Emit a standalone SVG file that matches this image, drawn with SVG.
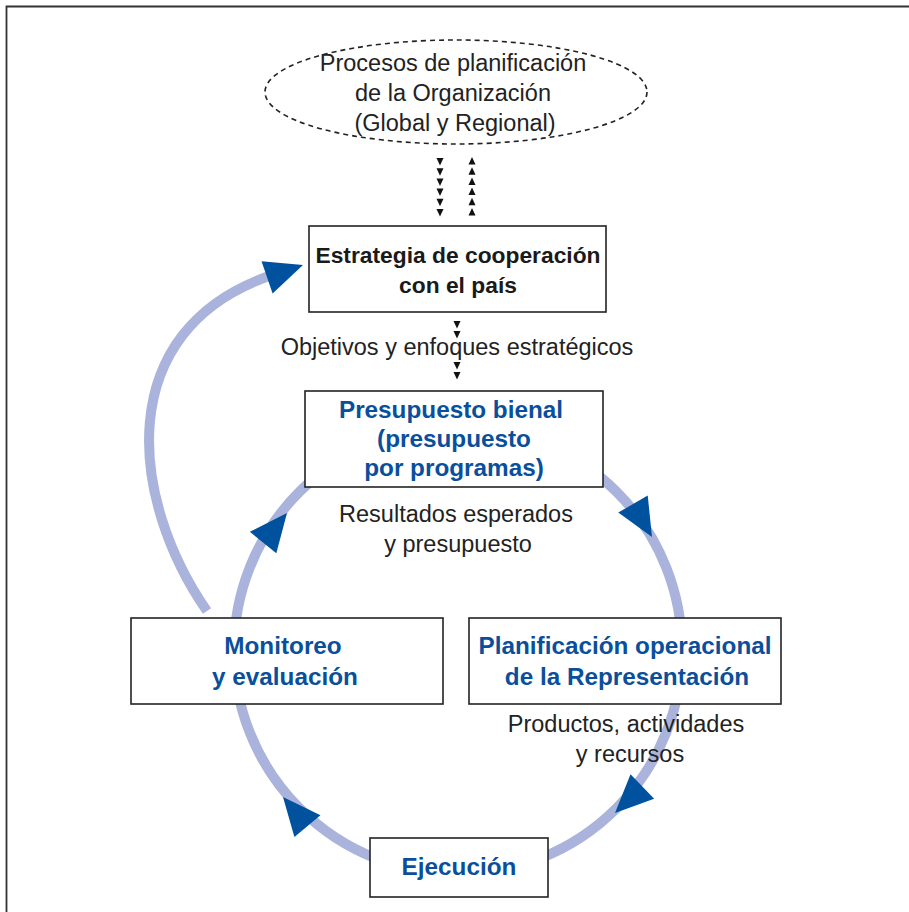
<svg xmlns="http://www.w3.org/2000/svg" width="909" height="912" viewBox="0 0 909 912">
<style>
.t{font-family:"Liberation Sans",Arial,sans-serif;font-size:23.5px;fill:#222;text-anchor:middle}
.b{font-family:"Liberation Sans",Arial,sans-serif;font-size:22.8px;font-weight:bold;text-anchor:middle}
.k{fill:#1a1a1a}
.bl{fill:#0a4f9c;font-size:24.3px}
.box{fill:#fff;stroke:#222;stroke-width:1.6}
.flow{fill:none;stroke:#a9b3db;stroke-width:10}
.ah{fill:#00519e}
.sm{fill:#111}
</style>
<defs>
<path id="head" d="M0,0 L-38,-17 L-38,17 Z"/>
<path id="dn" d="M-3.5,0 L3.5,0 L0,7.5 Z"/>
<path id="up" d="M-3.5,7.5 L3.5,7.5 L0,0 Z"/>
</defs>
<rect width="909" height="912" fill="#fff"/>
<path d="M6.5,912 V6.5 H909" fill="none" stroke="#333" stroke-width="1.8"/>

<g id="connectors">
<circle class="flow" cx="458" cy="650" r="224"/>
<path class="flow" d="M207,611 C130,500 110,330 272,275"/>
<use href="#head" class="ah" transform="translate(303,265) rotate(-19)"/>
<use href="#head" class="ah" transform="translate(287,513) rotate(-51)"/>
<use href="#head" class="ah" transform="translate(652,537) rotate(60)"/>
<use href="#head" class="ah" transform="translate(615,813) rotate(136)"/>
<use href="#head" class="ah" transform="translate(283,797) rotate(230)"/>
<g class="sm">
<use href="#dn" x="440" y="158"/><use href="#dn" x="440" y="168.2"/><use href="#dn" x="440" y="178.4"/><use href="#dn" x="440" y="188.6"/><use href="#dn" x="440" y="198.8"/><use href="#dn" x="440" y="209"/>
<use href="#up" x="472" y="157"/><use href="#up" x="472" y="167.2"/><use href="#up" x="472" y="177.4"/><use href="#up" x="472" y="187.6"/><use href="#up" x="472" y="197.8"/><use href="#up" x="472" y="208"/>
<use href="#dn" x="457" y="321"/><use href="#dn" x="457" y="331"/>
<use href="#dn" x="457" y="362"/><use href="#dn" x="457" y="372"/>
</g>
</g>

<g id="planificacion-organizacion">
<ellipse cx="456" cy="92" rx="191" ry="52" fill="none" stroke="#222" stroke-width="1.6" stroke-dasharray="5 4"/>
<text class="t" x="453" y="71">Procesos de planificación</text>
<text class="t" x="453" y="101">de la Organización</text>
<text class="t" x="455" y="131">(Global y Regional)</text>
</g>

<g id="estrategia">
<rect class="box" x="309" y="226" width="297" height="86"/>
<text class="b k" x="458" y="263">Estrategia de cooperación</text>
<text class="b k" x="458" y="293">con el país</text>
</g>

<text class="t" x="457" y="355">Objetivos y enfoques estratégicos</text>

<g id="presupuesto">
<rect class="box" x="305" y="391" width="298" height="96"/>
<text class="b bl" x="451" y="418">Presupuesto bienal</text>
<text class="b bl" x="454" y="447">(presupuesto</text>
<text class="b bl" x="454" y="476">por programas)</text>
</g>

<text class="t" x="456" y="522">Resultados esperados</text>
<text class="t" x="458" y="552">y presupuesto</text>

<g id="monitoreo">
<rect class="box" x="131" y="618" width="312" height="86"/>
<text class="b bl" x="283" y="654">Monitoreo</text>
<text class="b bl" x="285" y="685">y evaluación</text>
</g>

<g id="planificacion-operacional">
<rect class="box" x="469" y="618" width="312" height="86"/>
<text class="b bl" x="625" y="654">Planificación operacional</text>
<text class="b bl" x="627" y="685">de la Representación</text>
</g>

<text class="t" x="626" y="732">Productos, actividades</text>
<text class="t" x="630" y="762">y recursos</text>

<g id="ejecucion">
<rect class="box" x="370" y="838" width="178" height="59"/>
<text class="b bl" x="459" y="875">Ejecución</text>
</g>
</svg>
